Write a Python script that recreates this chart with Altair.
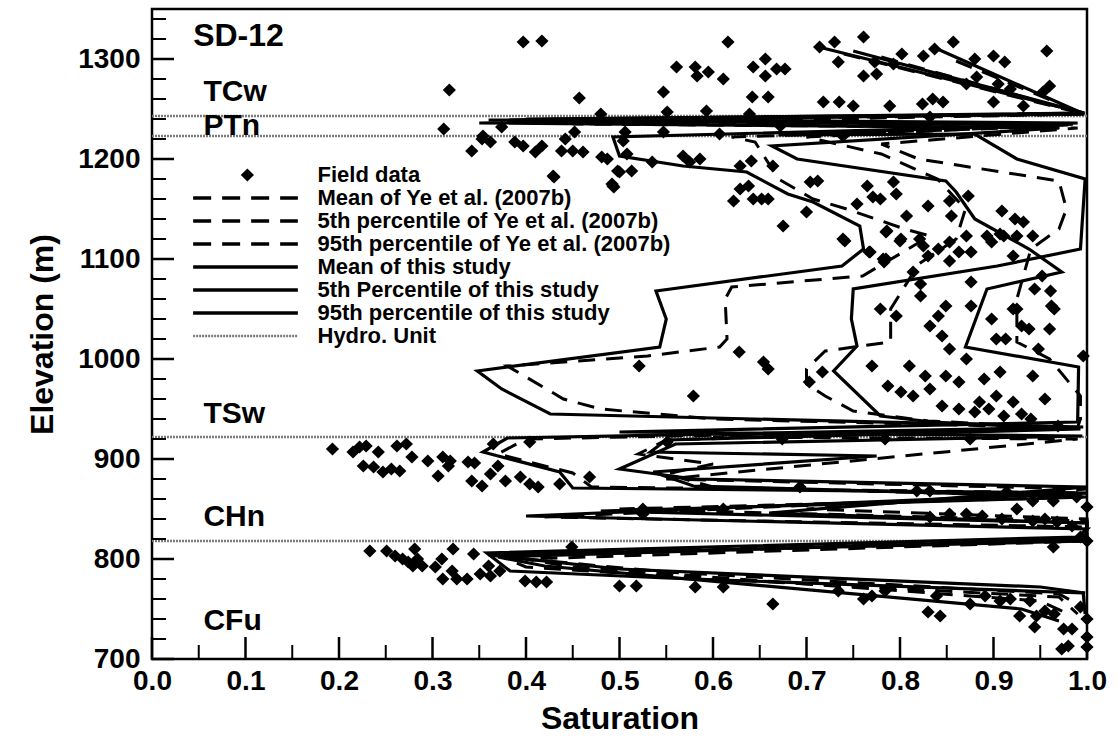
import altair as alt
import pandas as pd

# ---------------- Field data (saturation, elevation m) ----------------
field_sat = [
    # TCw
    0.397, 0.417, 0.318, 0.457, 0.48, 0.616, 0.561, 0.581, 0.583, 0.595, 0.611, 0.643, 0.656, 0.656, 0.668, 0.677,
    0.547, 0.642, 0.659, 0.714, 0.73, 0.761, 0.734, 0.773, 0.802, 0.825, 0.837, 0.857, 0.88, 0.9, 0.912, 0.957,
    0.793, 0.761, 0.775, 0.882, 0.905, 0.918, 0.96, 0.871, 0.835, 0.846, 0.953, 0.718, 0.735, 0.75, 0.789, 0.824,
    0.551, 0.593, 0.639, 0.832, 0.9, 0.932,
    # PTn
    0.312, 0.354, 0.374, 0.342, 0.353, 0.362, 0.388, 0.397, 0.41, 0.417, 0.429, 0.438, 0.442, 0.45, 0.452, 0.461,
    0.481, 0.492, 0.498, 0.508, 0.513, 0.504, 0.506, 0.547, 0.607, 0.672, 0.739,
    # TSw
    0.487, 0.5, 0.493, 0.535, 0.568, 0.575, 0.586, 0.629, 0.641, 0.664, 0.629, 0.643, 0.659, 0.622, 0.704, 0.675,
    0.754, 0.765, 0.771, 0.793, 0.807, 0.83, 0.853, 0.855, 0.873, 0.909, 0.923, 0.932, 0.942, 0.907, 0.893, 0.871,
    0.821, 0.8, 0.786, 0.739, 0.43, 0.494, 0.638, 0.652, 0.7, 0.712, 0.741, 0.779, 0.796, 0.767, 0.785, 0.785,
    0.801, 0.825, 0.83, 0.841, 0.853, 0.863, 0.853, 0.876, 0.898, 0.911, 0.925, 0.921, 0.952, 0.961, 0.965, 0.938,
    0.913, 0.948, 0.876, 0.822, 0.822, 0.783, 0.814, 0.876, 0.898, 0.925, 0.903, 0.849, 0.841, 0.832, 0.845, 0.853,
    0.871, 0.779, 0.796, 0.77, 0.81, 0.827, 0.832, 0.787, 0.801, 0.814, 0.849, 0.863, 0.89, 0.907, 0.885, 0.903,
    0.921, 0.845, 0.863, 0.88, 0.911, 0.942, 0.969, 0.996, 0.921, 0.93, 0.962, 0.96, 0.944, 0.628, 0.654, 0.659,
    0.579, 0.521, 0.717, 0.703, 0.768, 0.782, 0.895, 0.93, 0.955, 0.94,
    # CHn
    0.193, 0.215, 0.222, 0.229, 0.242, 0.226, 0.237, 0.247, 0.256, 0.265, 0.262, 0.272, 0.278, 0.295, 0.311, 0.319,
    0.317, 0.306, 0.338, 0.345, 0.342, 0.353, 0.362, 0.37, 0.378, 0.394, 0.404, 0.413, 0.436, 0.365, 0.404, 0.468,
    0.525, 0.551, 0.674, 0.784, 0.875, 0.693, 0.818, 0.832, 0.914, 0.942, 0.964, 0.989, 1.0, 0.525, 0.611, 0.832,
    0.853, 0.871, 0.888, 0.909, 0.925, 0.942, 0.955, 0.968, 0.984, 1.0, 0.964, 0.993,
    # CFu
    0.233, 0.251, 0.26, 0.268, 0.274, 0.281, 0.284, 0.289, 0.279, 0.303, 0.31, 0.311, 0.321, 0.322, 0.326, 0.337,
    0.344, 0.351, 0.36, 0.362, 0.372, 0.399, 0.411, 0.422, 0.449, 0.5, 0.518, 0.581, 0.611, 0.664, 0.734, 0.761,
    0.77, 0.784, 0.83, 0.843, 0.839, 0.875, 0.891, 0.907, 0.918, 0.928, 0.946, 0.944, 0.955, 0.965, 0.975, 0.984,
    0.973, 0.98, 0.993, 1.0, 1.0, 1.0, 0.939,
]
field_elev = [
    # TCw
    1317, 1318, 1269, 1261, 1245, 1317, 1292, 1292, 1283, 1287, 1280, 1292, 1300, 1283, 1290, 1290,
    1267, 1262, 1262, 1312, 1317, 1322, 1297, 1297, 1305, 1303, 1310, 1317, 1300, 1303, 1297, 1308,
    1295, 1283, 1285, 1282, 1275, 1270, 1273, 1275, 1260, 1257, 1267, 1257, 1257, 1253, 1253, 1255,
    1247, 1248, 1245, 1242, 1257, 1253,
    # PTn
    1230, 1223, 1232, 1208, 1220, 1217, 1217, 1213, 1207, 1213, 1183, 1208, 1220, 1208, 1227, 1207,
    1202, 1175, 1188, 1205, 1188, 1218, 1227, 1227, 1225, 1233, 1223,
    # TSw
    1200, 1187, 1173, 1197, 1203, 1197, 1200, 1193, 1198, 1193, 1170, 1160, 1160, 1158, 1177, 1133,
    1155, 1173, 1162, 1177, 1143, 1153, 1158, 1143, 1163, 1148, 1140, 1137, 1123, 1125, 1123, 1123,
    1120, 1118, 1128, 1120, 1182, 1172, 1173, 1160, 1147, 1178, 1118, 1160, 1165, 1107, 1127, 1100,
    1120, 1113, 1103, 1110, 1117, 1107, 1098, 1107, 1117, 1123, 1123, 1103, 1083, 1068, 1050, 1030,
    1020, 1010, 1077, 1075, 1063, 1097, 1087, 1053, 1040, 1050, 1020, 1053, 1043, 1033, 1023, 1010,
    1000, 1050, 1043, 993, 993, 983, 970, 973, 967, 963, 983, 977, 980, 987, 957, 963,
    957, 953, 950, 947, 943, 983, 933, 1003, 1050, 1033, 1053, 1030, 1070, 1007, 997, 990,
    963, 993, 987, 977, 1107, 1100, 950, 945, 960, 940,
    # CHn
    910, 907, 912, 913, 907, 893, 892, 887, 890, 888, 913, 915, 902, 898, 902, 898,
    893, 883, 897, 896, 878, 873, 885, 893, 878, 882, 875, 872, 875, 915, 917, 882,
    845, 917, 920, 920, 920, 872, 868, 868, 867, 858, 858, 862, 852, 850, 850, 842,
    845, 845, 843, 840, 850, 838, 840, 837, 833, 818, 812, 822,
    # CFu
    808, 808, 803, 800, 797, 810, 800, 793, 793, 792, 800, 780, 788, 810, 780, 780,
    805, 785, 793, 783, 788, 778, 777, 777, 812, 773, 773, 772, 772, 755, 768, 760,
    763, 768, 747, 743, 763, 755, 763, 758, 760, 743, 743, 732, 748, 745, 730, 730,
    710, 713, 752, 740, 722, 712, 758,
]

# ---------------- Model profiles (solid: this study, dashed: Ye et al. 2007b) ----------------
this_p5_sat = [0.713, 0.997, 0.36, 0.98, 0.493, 0.50, 0.568, 0.636, 0.68, 0.707, 0.757, 0.761, 0.738, 0.539, 0.55,
               0.543, 0.348, 0.374, 0.426, 0.60, 0.996, 0.38, 0.354, 0.436, 0.45, 1.0, 0.40, 1.0, 0.99, 0.358,
               0.383, 0.55, 0.996, 0.998]
this_p5_elev = [1312, 1246, 1239, 1234, 1222, 1203, 1193, 1187, 1165, 1157, 1133, 1110, 1093, 1068, 1040,
                1012, 988, 970, 945, 941, 932, 921, 907, 887, 871, 866, 843, 830, 822, 806,
                788, 781, 766, 745]

this_p95_sat = [0.84, 0.997, 0.40, 0.99, 0.67, 0.88, 0.925, 0.998, 0.993, 0.904, 0.75, 0.748, 0.754, 0.729, 0.779,
                0.835, 0.993, 0.55, 0.533, 0.775, 0.536, 0.579, 1.0, 0.48, 1.0, 0.998, 0.37, 0.42, 0.93, 0.97]
this_p95_elev = [1310, 1245, 1240, 1236, 1224, 1225, 1200, 1180, 1110, 1093, 1070, 1040, 1013, 988, 943,
                 937, 930, 919, 907, 903, 887, 873, 862, 848, 836, 820, 802, 793, 750, 738]

this_mean_sat = [0.75, 0.997, 0.35, 0.97, 0.663, 0.69, 0.849, 0.86, 0.88, 0.938, 0.973, 0.893, 0.87, 0.991, 0.99,
                 0.50, 0.995, 0.56, 0.50, 0.58, 1.0, 0.66, 1.0, 1.0, 0.36, 0.50, 0.95, 0.998]
this_mean_elev = [1308, 1246, 1236, 1231, 1213, 1200, 1178, 1167, 1140, 1110, 1087, 1070, 1012, 992, 937,
                  927, 923, 915, 890, 880, 872, 846, 836, 818, 804, 790, 772, 766]

ye_p5_sat = [0.74, 0.997, 0.38, 0.95, 0.62, 0.645, 0.67, 0.707, 0.743, 0.774, 0.805, 0.832, 0.76, 0.62, 0.613,
             0.615, 0.607, 0.53, 0.38, 0.44, 0.48, 0.60, 0.99, 0.40, 0.37, 0.45, 0.47, 1.0, 0.42, 1.0, 1.0,
             0.37, 0.40, 0.60, 0.97, 0.99]
ye_p5_elev = [1305, 1245, 1237, 1232, 1222, 1217, 1180, 1160, 1150, 1140, 1130, 1123, 1083, 1072, 1060,
              1020, 1012, 1003, 993, 960, 950, 940, 931, 920, 905, 886, 872, 866, 842, 832, 820,
              804, 792, 780, 762, 745]

ye_mean_sat = [0.78, 0.997, 0.42, 0.99, 0.70, 0.78, 0.84, 0.87, 0.86, 0.82, 0.79, 0.79, 0.72, 0.70, 0.70, 0.72,
               0.75, 0.83, 0.99, 0.55, 0.52, 0.60, 0.55, 0.60, 1.0, 0.50, 1.0, 1.0, 0.38, 0.45, 0.95, 0.98]
ye_mean_elev = [1302, 1245, 1239, 1235, 1222, 1205, 1180, 1150, 1120, 1095, 1050, 1017, 1008, 990, 975, 963,
                948, 938, 931, 919, 905, 895, 885, 872, 862, 850, 838, 819, 803, 792, 758, 745]

ye_p95_sat = [0.86, 0.997, 0.45, 0.99, 0.78, 0.82, 0.97, 0.978, 0.97, 0.94, 0.925, 0.925, 0.96, 0.993, 0.993,
              0.99, 0.60, 0.99, 0.55, 1.0, 0.70, 1.0, 1.0, 0.40, 0.55, 0.97, 1.0]
ye_p95_elev = [1298, 1245, 1235, 1231, 1215, 1200, 1178, 1150, 1130, 1110, 1060, 1017, 1000, 963, 940,
               932, 922, 920, 880, 870, 850, 840, 818, 800, 787, 765, 750]

hydro_elev = [1243, 1223, 922, 818]
unit_names = ["TCw", "PTn", "TSw", "CHn", "CFu"]
unit_label_elev = [1267, 1233, 945, 842, 738]

legend_labels = ["Field data", "Mean of Ye et al. (2007b)", "5th percentile of Ye et al. (2007b)",
                 "95th percentile of Ye et al. (2007b)", "Mean of this study", "5th Percentile of this study",
                 "95th percentile of this study", "Hydro. Unit"]
legend_kind = ["point", "dash", "dash", "dash", "solid", "solid", "solid", "hydro"]

x_major = [round(0.1 * i, 1) for i in range(11)]
x_minor = [round(0.05 + 0.1 * i, 2) for i in range(10)]
y_major = list(range(700, 1301, 100))
y_minor = [v for v in range(720, 1350, 20) if v % 100 != 0]

# ---------------- build tables ----------------
def profile(name, sats, elevs):
    return pd.DataFrame({"sat": sats, "elev": elevs, "series": name, "idx": range(len(sats))})

solid_df = pd.concat([
    profile("mean_this", this_mean_sat, this_mean_elev),
    profile("p5_this", this_p5_sat, this_p5_elev),
    profile("p95_this", this_p95_sat, this_p95_elev),
])
dash_df = pd.concat([
    profile("mean_ye", ye_mean_sat, ye_mean_elev),
    profile("p5_ye", ye_p5_sat, ye_p5_elev),
    profile("p95_ye", ye_p95_sat, ye_p95_elev),
])
field_df = pd.DataFrame({"sat": field_sat, "elev": field_elev})
hydro_df = pd.DataFrame({"elev": hydro_elev, "sat": 0.0, "sat2": 1.0})
units_df = pd.DataFrame({"label": unit_names, "elev": unit_label_elev, "sat": 0.055})
title_df = pd.DataFrame({"label": ["SD-12"], "elev": [1323], "sat": [0.044]})

# legend layout (in data units of the plot)
leg_rows = [1184, 1161, 1138, 1115, 1092, 1069, 1046, 1023]
leg_df = pd.DataFrame({"label": legend_labels, "kind": legend_kind, "elev": leg_rows,
                       "sat": 0.044, "sat2": 0.156, "tsat": 0.177, "psat": 0.102})

FONT = "Liberation Sans"
xscale = alt.Scale(domain=[0, 1], nice=False, zero=False)
yscale = alt.Scale(domain=[700, 1350], nice=False, zero=False)
xaxis = alt.Axis(values=x_major, format=".1f", title="Saturation", ticks=False, domain=False, grid=False,
                 labelFontSize=28, labelFontWeight="bold", labelFont=FONT, labelColor="black",
                 labelPadding=8, labelFlush=False, labelOverlap=False,
                 titleFontSize=32, titleFontWeight="bold", titleFont=FONT, titleColor="black", titlePadding=8)
yaxis = alt.Axis(values=y_major, format="d", title="Elevation (m)", ticks=False, domain=False, grid=False,
                 labelFontSize=28, labelFontWeight="bold", labelFont=FONT, labelColor="black",
                 labelPadding=12, labelOverlap=False,
                 titleFontSize=32, titleFontWeight="bold", titleFont=FONT, titleColor="black", titlePadding=18)
X = alt.X("sat:Q", scale=xscale, axis=xaxis)
Y = alt.Y("elev:Q", scale=yscale, axis=yaxis)

hydro = alt.Chart(hydro_df).mark_rule(color="#7a7a7a", strokeWidth=2.5, strokeDash=[2, 1]).encode(
    x=X, x2="sat2:Q", y=Y)

dashed = alt.Chart(dash_df).mark_line(color="black", strokeWidth=3, strokeDash=[17, 11]).encode(
    x=X, y=Y, detail="series:N", order="idx:Q")

solid = alt.Chart(solid_df).mark_line(color="black", strokeWidth=3.2).encode(
    x=X, y=Y, detail="series:N", order="idx:Q")

points = alt.Chart(field_df).mark_point(shape="diamond", filled=True, color="black", opacity=1, size=175).encode(
    x=X, y=Y)

units = alt.Chart(units_df).mark_text(align="left", baseline="middle", font=FONT, fontSize=30,
                                       fontWeight="bold", color="black").encode(x=X, y=Y, text="label:N")
sd_title = alt.Chart(title_df).mark_text(align="left", baseline="middle", font=FONT, fontSize=32,
                                          fontWeight="bold", color="black").encode(x=X, y=Y, text="label:N")

# inward ticks
ytick_df = pd.DataFrame({"elev": y_major + y_minor, "len": [22] * len(y_major) + [14] * len(y_minor)})
xtick_df = pd.DataFrame({"sat": x_major + x_minor, "len": [22] * len(x_major) + [14] * len(x_minor)})
ytick_major = alt.Chart(ytick_df[ytick_df["len"] == 22]).mark_rule(color="black", strokeWidth=2.5).encode(
    y=Y, x=alt.value(0), x2=alt.value(22))
ytick_minor = alt.Chart(ytick_df[ytick_df["len"] == 14]).mark_rule(color="black", strokeWidth=2).encode(
    y=Y, x=alt.value(0), x2=alt.value(14))
xtick_major = alt.Chart(xtick_df[xtick_df["len"] == 22]).mark_rule(color="black", strokeWidth=2.5).encode(
    x=X, y=alt.value(650), y2=alt.value(628))
xtick_minor = alt.Chart(xtick_df[xtick_df["len"] == 14]).mark_rule(color="black", strokeWidth=2).encode(
    x=X, y=alt.value(650), y2=alt.value(636))

# legend
leg_dash = alt.Chart(leg_df[leg_df["kind"] == "dash"]).mark_rule(color="black", strokeWidth=3.5,
                                                                  strokeDash=[18, 11]).encode(x=X, x2="sat2:Q", y=Y)
leg_solid = alt.Chart(leg_df[leg_df["kind"] == "solid"]).mark_rule(color="black", strokeWidth=3.5).encode(
    x=X, x2="sat2:Q", y=Y)
leg_hydro = alt.Chart(leg_df[leg_df["kind"] == "hydro"]).mark_rule(color="#7a7a7a", strokeWidth=2.5,
                                                                    strokeDash=[2, 1]).encode(x=X, x2="sat2:Q", y=Y)
leg_point = alt.Chart(leg_df[leg_df["kind"] == "point"]).mark_point(shape="diamond", filled=True, color="black",
                                                                     opacity=1, size=175).encode(
    x=alt.X("psat:Q", scale=xscale, axis=xaxis), y=Y)
leg_text = alt.Chart(leg_df).mark_text(align="left", baseline="middle", font=FONT, fontSize=22,
                                       fontWeight="bold", color="black").encode(
    x=alt.X("tsat:Q", scale=xscale, axis=xaxis), y=Y, text="label:N")

chart = alt.layer(
    hydro, dashed, solid, points, units, sd_title,
    ytick_major, ytick_minor, xtick_major, xtick_minor,
    leg_dash, leg_solid, leg_hydro, leg_point, leg_text,
).properties(
    width=935, height=650,
    autosize=alt.AutoSizeParams(type="none"),
    padding={"left": 152, "top": 9, "right": 30, "bottom": 79},
    background="white",
).configure_view(stroke="black", strokeWidth=2.5)

chart.save("out.html", embed_options={"renderer": "svg", "actions": False})
